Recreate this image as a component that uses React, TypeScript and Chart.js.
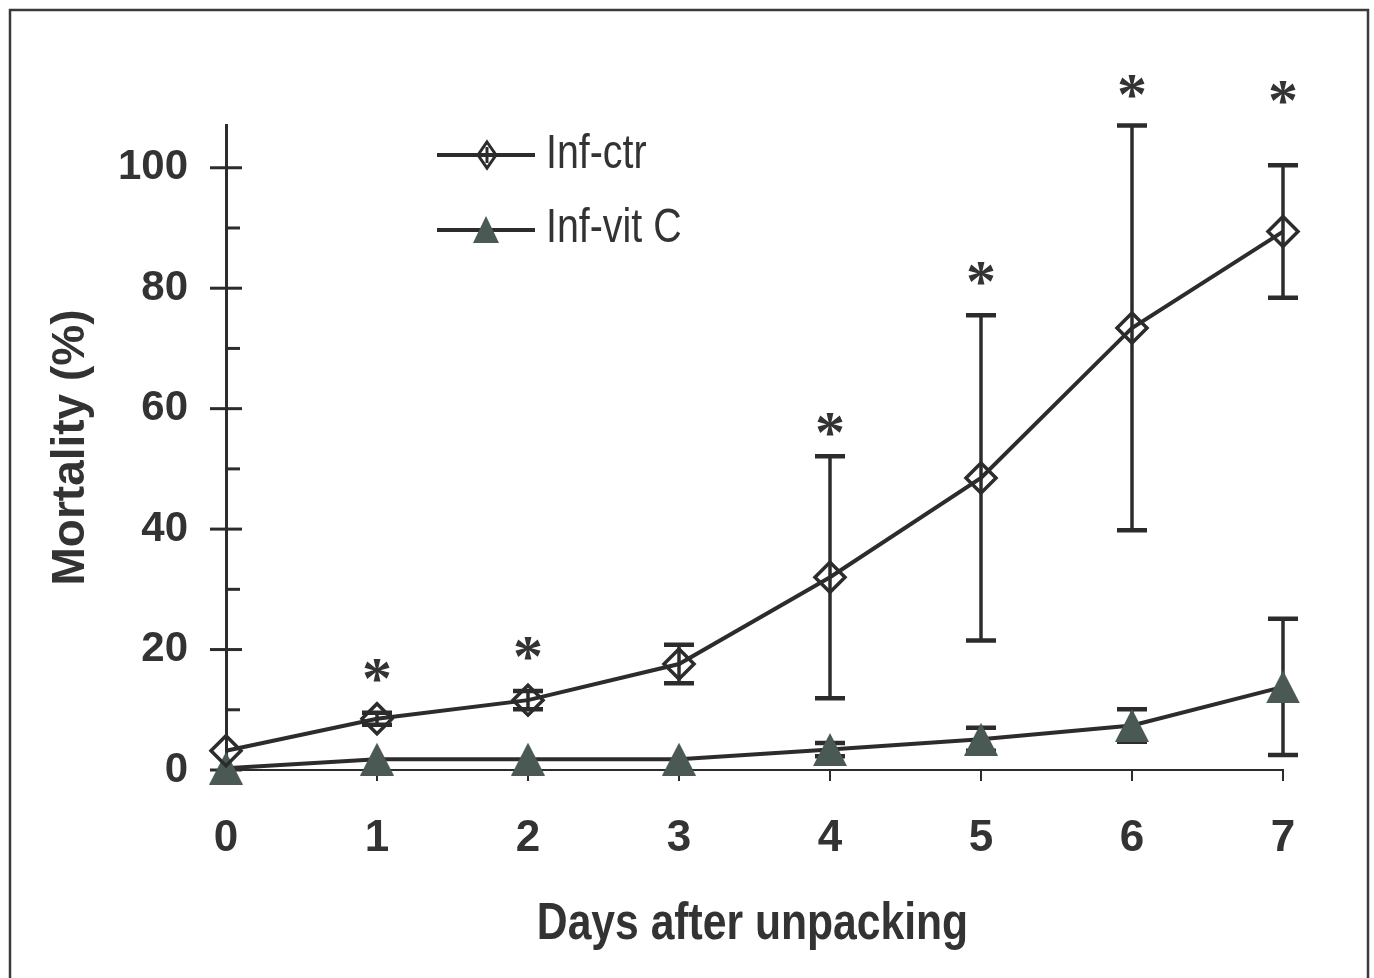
import React, { useEffect, useRef } from 'react';
import { Chart, registerables } from 'chart.js';

Chart.register(...registerables);

// ---- data ----
const days = [0, 1, 2, 3, 4, 5, 6, 7];
const infCtr = [3.2, 8.5, 11.6, 17.6, 32.0, 48.5, 73.4, 89.4];
const infCtrErr = [0, 1.0, 1.5, 3.2, 20.1, 27.0, 33.6, 11.0];
const infVitC = [0.3, 1.8, 1.8, 1.8, 3.4, 5.1, 7.4, 13.8];
const infVitCErr = [0, 0, 0, 0, 1.1, 1.9, 2.7, 11.3];
const starDays = [1, 2, 4, 5, 6, 7];
const starLevels = [16.5, 20.1, 57.4, 82.5, 113.5, 112.5];
const yMajorTicks = [0, 20, 40, 60, 80, 100];
const yMinorTicks = [10, 30, 50, 70, 90];
const seriesNames = ['Inf-ctr', 'Inf-vit C'];
const xAxisTitle = 'Days after unpacking';
const yAxisTitle = 'Mortality (%)';

const W = 1374;
const H = 978;
const INK = '#2c2c2c';
const TEXT = '#333333';
const TRI = '#4a5954';
const SANS = "'Liberation Sans', Arial, Helvetica, sans-serif";
const SERIF = "'Liberation Serif', 'DejaVu Serif', serif";
const CONDENSE = 0.82;

function makeTriangle(w: number, h: number, color: string) {
  const c = document.createElement('canvas');
  c.width = w;
  c.height = h;
  const g = c.getContext('2d')!;
  g.fillStyle = color;
  g.beginPath();
  g.moveTo(w / 2, 0);
  g.lineTo(w, h);
  g.lineTo(0, h);
  g.closePath();
  g.fill();
  return c;
}

function condensedText(ctx: any, text: string, x: number, y: number, font: string, align: string) {
  ctx.save();
  ctx.font = font;
  ctx.textAlign = align;
  ctx.textBaseline = 'middle';
  ctx.translate(x, y);
  ctx.scale(CONDENSE, 1);
  ctx.fillText(text, 0, 0);
  ctx.restore();
}

const decor = {
  id: 'figureDecor',
  beforeDraw(chart: any) {
    const { ctx } = chart;
    ctx.save();
    ctx.fillStyle = '#ffffff';
    ctx.fillRect(0, 0, W, H);
    ctx.strokeStyle = '#3a3a3a';
    ctx.lineWidth = 2.5;
    ctx.beginPath();
    ctx.moveTo(10, H);
    ctx.lineTo(10, 10);
    ctx.lineTo(1368, 10);
    ctx.lineTo(1368, H);
    ctx.stroke();
    ctx.restore();
  },
  beforeDatasetsDraw(chart: any) {
    const { ctx } = chart;
    const xs = chart.scales.x;
    const ys = chart.scales.y;
    ctx.save();
    ctx.strokeStyle = INK;
    ctx.lineCap = 'butt';
    // tick marks
    const ax = xs.left;
    const ay = ys.bottom;
    ctx.lineWidth = 3;
    yMajorTicks.forEach((v) => {
      const py = ys.getPixelForValue(v);
      ctx.beginPath();
      ctx.moveTo(ax - 16, py);
      ctx.lineTo(ax + 16, py);
      ctx.stroke();
    });
    yMinorTicks.forEach((v) => {
      const py = ys.getPixelForValue(v);
      ctx.beginPath();
      ctx.moveTo(ax, py);
      ctx.lineTo(ax + 14, py);
      ctx.stroke();
    });
    ctx.lineWidth = 2;
    days.forEach((d) => {
      const px = xs.getPixelForValue(d);
      ctx.beginPath();
      ctx.moveTo(px, ay);
      ctx.lineTo(px, ay + 11);
      ctx.stroke();
    });
    // error bars
    const sets: [number[], number[]][] = [
      [infCtr, infCtrErr],
      [infVitC, infVitCErr],
    ];
    sets.forEach(([vals, errs]) => {
      vals.forEach((v, i) => {
        const e = errs[i];
        if (!e) return;
        const px = xs.getPixelForValue(days[i]);
        const top = ys.getPixelForValue(v + e);
        const bot = ys.getPixelForValue(Math.max(v - e, 0));
        ctx.lineWidth = 3.5;
        ctx.beginPath();
        ctx.moveTo(px, top);
        ctx.lineTo(px, bot);
        ctx.stroke();
        ctx.lineWidth = 4.5;
        ctx.beginPath();
        ctx.moveTo(px - 15, top);
        ctx.lineTo(px + 15, top);
        ctx.moveTo(px - 15, bot);
        ctx.lineTo(px + 15, bot);
        ctx.stroke();
      });
    });
    ctx.restore();
  },
  afterDatasetsDraw(chart: any) {
    const { ctx } = chart;
    const xs = chart.scales.x;
    const ys = chart.scales.y;
    ctx.save();
    // significance asterisks
    ctx.fillStyle = TEXT;
    ctx.font = `bold 60px ${SERIF}`;
    ctx.textAlign = 'center';
    ctx.textBaseline = 'alphabetic';
    const m = ctx.measureText('*');
    const asc = m.actualBoundingBoxAscent || 34;
    const desc = m.actualBoundingBoxDescent || -10;
    starDays.forEach((d, i) => {
      const px = xs.getPixelForValue(d);
      const cy = ys.getPixelForValue(starLevels[i]);
      ctx.fillText('*', px, cy - (desc - asc) / 2);
    });
    // legend
    ctx.strokeStyle = INK;
    ctx.lineWidth = 4;
    ctx.beginPath();
    ctx.moveTo(437, 155);
    ctx.lineTo(535, 155);
    ctx.moveTo(437, 230);
    ctx.lineTo(535, 230);
    ctx.stroke();
    ctx.lineWidth = 3;
    ctx.beginPath();
    ctx.moveTo(487, 142);
    ctx.lineTo(496, 155);
    ctx.lineTo(487, 168);
    ctx.lineTo(478, 155);
    ctx.closePath();
    ctx.stroke();
    ctx.beginPath();
    ctx.moveTo(487, 147);
    ctx.lineTo(487, 163);
    ctx.stroke();
    ctx.fillStyle = TRI;
    ctx.beginPath();
    ctx.moveTo(486, 216);
    ctx.lineTo(499, 243);
    ctx.lineTo(473, 243);
    ctx.closePath();
    ctx.fill();
    ctx.fillStyle = TEXT;
    condensedText(ctx, seriesNames[0], 546, 155, `48px ${SANS}`, 'left');
    condensedText(ctx, seriesNames[1], 546, 229, `48px ${SANS}`, 'left');
    // x axis title (condensed face, as in the figure)
    const cx = (xs.left + xs.right) / 2 - 2;
    condensedText(ctx, xAxisTitle, cx, 925, `bold 52px ${SANS}`, 'center');
    ctx.restore();
  },
};

export default function App() {
  const ref = useRef<HTMLCanvasElement | null>(null);

  useEffect(() => {
    if (!ref.current) return;
    const tri = makeTriangle(34, 33, TRI);
    const chart = new Chart(ref.current, {
      type: 'line',
      data: {
        datasets: [
          {
            label: seriesNames[0],
            data: days.map((d, i) => ({ x: d, y: infCtr[i] })),
            borderColor: INK,
            borderWidth: 4,
            pointStyle: 'rectRot',
            pointRadius: 15,
            pointBorderWidth: 3.5,
            pointBorderColor: INK,
            pointBackgroundColor: 'rgba(0,0,0,0)',
            fill: false,
            tension: 0,
            clip: false as any,
          },
          {
            label: seriesNames[1],
            data: days.map((d, i) => ({ x: d, y: infVitC[i] })),
            borderColor: INK,
            borderWidth: 4,
            pointStyle: tri as any,
            pointRadius: 17,
            fill: false,
            tension: 0,
            clip: false as any,
          },
        ],
      },
      options: {
        responsive: false,
        animation: false,
        devicePixelRatio: 1,
        layout: { padding: { left: 0, top: 125, right: 91, bottom: 0 } },
        plugins: {
          legend: { display: false },
          tooltip: { enabled: false },
          title: { display: false },
        },
        scales: {
          x: {
            type: 'linear',
            min: 0,
            max: 7,
            grid: { display: false, drawTicks: false },
            border: { display: true, color: INK, width: 2 },
            ticks: {
              stepSize: 1,
              padding: 42,
              color: TEXT,
              font: { family: SANS, size: 44, weight: 'bold' },
            },
            title: { display: false, text: xAxisTitle },
            afterFit(s: any) {
              s.height = 208;
            },
          },
          y: {
            type: 'linear',
            min: 0,
            max: 107.1,
            grid: { display: false, drawTicks: false },
            border: { display: true, color: INK, width: 3 },
            ticks: {
              stepSize: 20,
              includeBounds: false,
              padding: 38,
              color: TEXT,
              font: { family: SANS, size: 42, weight: 'bold' },
            },
            title: {
              display: true,
              text: yAxisTitle,
              color: TEXT,
              font: { family: SANS, size: 46, weight: 'bold' },
              padding: { top: 44, bottom: 0 },
            },
            afterFit(s: any) {
              s.width = 226;
            },
          },
        },
      },
      plugins: [decor],
    });
    return () => chart.destroy();
  }, []);

  return (
    <div style={{ position: 'absolute', left: 0, top: 0, width: W, height: H, background: '#fff' }}>
      <canvas ref={ref} width={W} height={H} style={{ display: 'block', width: W, height: H }} />
    </div>
  );
}
